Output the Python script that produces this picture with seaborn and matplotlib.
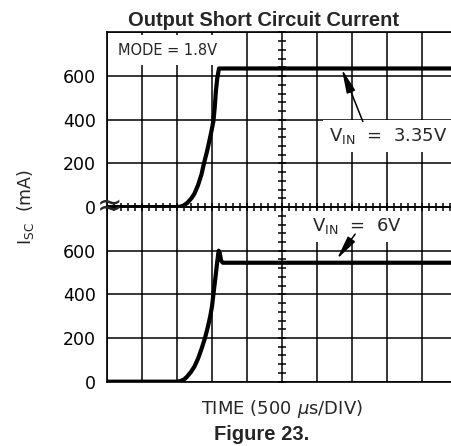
import numpy as np
import pandas as pd
import matplotlib
matplotlib.use("Agg")
import matplotlib.pyplot as plt
import seaborn as sns

# ---- data (time in divisions of 500 us, current in mA) ----
t_335 = [0, 2.0, 2.1, 2.2, 2.3, 2.42, 2.5, 2.6, 2.7, 2.77, 2.85, 2.92, 2.98,
         3.04, 3.08, 3.11, 3.15, 3.2, 10]
i_335 = [0, 0, 2, 8, 20, 42, 62, 100, 150, 200, 250, 300, 345,
         393, 460, 530, 590, 635, 635]

t_6 = [0, 2.0, 2.1, 2.2, 2.28, 2.4, 2.5, 2.6, 2.7, 2.8, 2.88, 2.95, 3.0, 3.04,
       3.1, 3.15, 3.19, 3.22, 3.26, 3.31, 10]
i_6 = [0, 0, 3, 10, 22, 45, 70, 105, 150, 200, 250, 300, 345, 400,
       480, 550, 600, 590, 555, 545, 545]

y_ticks = [0, 200, 400, 600]
y_ticklabels = ["0", "200", "400", "600"]
x_divs = list(range(0, 11))

sns.set_style("white")
plt.rcParams["font.family"] = ["DejaVu Sans"]
plt.rcParams["mathtext.fontset"] = "dejavusans"

W, H = 451, 446
fig = plt.figure(figsize=(W / 100, H / 100), dpi=100)

left = 107 / W
width = 350 / W
bot = 0.1442
ph = 0.3915
ax_bot = fig.add_axes([left, bot, width, ph])
ax_top = fig.add_axes([left, bot + ph, width, ph])

grid_lw = 1.1
for ax in (ax_top, ax_bot):
    ax.set_xlim(0, 10)
    ax.set_ylim(0, 800)
    ax.set_xticks(x_divs)
    ax.set_yticks(y_ticks + [800])
    ax.set_xticklabels([])
    ax.set_yticklabels(y_ticklabels + [""])
    ax.tick_params(axis="both", length=0, pad=8, labelsize=12.5, colors="black")
    ax.grid(True, color="black", lw=grid_lw)
    ax.set_axisbelow(True)
    for s in ax.spines.values():
        s.set_color("black")
        s.set_linewidth(1.2)
    ax.set_facecolor("white")
    # center-line scale marks on x=5
    ax.plot([5] * 21, np.arange(0, 801, 40), ls="none", marker="_", ms=5.5,
            mew=grid_lw, color="black", zorder=2.5, clip_on=False)
ax_bot.spines["top"].set_visible(False)
ax_top.patch.set_alpha(0)

# scale marks on the horizontal center line
ax_top.plot(np.arange(0, 10.01, 0.2), [0] * 51, ls="none", marker="|", ms=6,
            mew=grid_lw, color="black", zorder=2.5, clip_on=False)

sns.lineplot(x=t_335, y=i_335, ax=ax_top, color="black", lw=3, estimator=None,
             sort=False, zorder=3)
sns.lineplot(x=t_6, y=i_6, ax=ax_bot, color="black", lw=3, estimator=None,
             sort=False, zorder=3)
for ax in (ax_top, ax_bot):
    ax.set_xlabel("")
    ax.set_ylabel("")

box = dict(boxstyle="square,pad=0.35", fc="white", ec="none")

ax_top.text(0.31, 698, "MODE = 1.8V", fontsize=10.5, ha="left", va="baseline",
            bbox=dict(boxstyle="square,pad=0.5", fc="white", ec="none"), zorder=4)

ax_top.text(6.34, 302, r"$\mathregular{V_{IN}}$  =  3.35V", fontsize=13,
            ha="left", va="baseline", bbox=box, zorder=4)
ax_bot.text(5.86, 690, r"$\mathregular{V_{IN}}$  =  6V", fontsize=13,
            ha="left", va="baseline", bbox=box, zorder=4)

arrow = dict(arrowstyle="-|>,head_length=0.8,head_width=0.15", color="black",
             lw=1.1, shrinkA=0, shrinkB=0, mutation_scale=18)
ax_top.annotate("", xy=(6.71, 632), xytext=(7.31, 392), arrowprops=arrow, zorder=5)
ax_bot.annotate("", xy=(6.57, 562), xytext=(7.09, 676), arrowprops=arrow, zorder=5)

# axis break mark
ax_top.text(0.08, 0, "\u2248", family="DejaVu Sans", fontsize=22, ha="center",
            va="center", zorder=6, clip_on=False)

fig.text(25 / W, 1 - 207 / H, r"$\mathregular{I_{SC}}$  (mA)", rotation=90,
         fontsize=12.5, ha="center", va="center")
fig.text(282 / W, 1 - 414 / H, r"TIME (500 $\mu$s/DIV)", fontsize=13,
         ha="center", va="baseline")

fig.text(263 / W, 1 - 25.7 / H, "Output Short Circuit Current", fontsize=14.5,
         fontweight="bold", family="Liberation Sans", ha="center", va="baseline")
fig.text(262 / W, 1 - 440 / H, "Figure 23.", fontsize=14.5, fontweight="bold",
         family="Liberation Sans", ha="center", va="baseline")

fig.savefig("out.png", dpi=100, facecolor="white")
